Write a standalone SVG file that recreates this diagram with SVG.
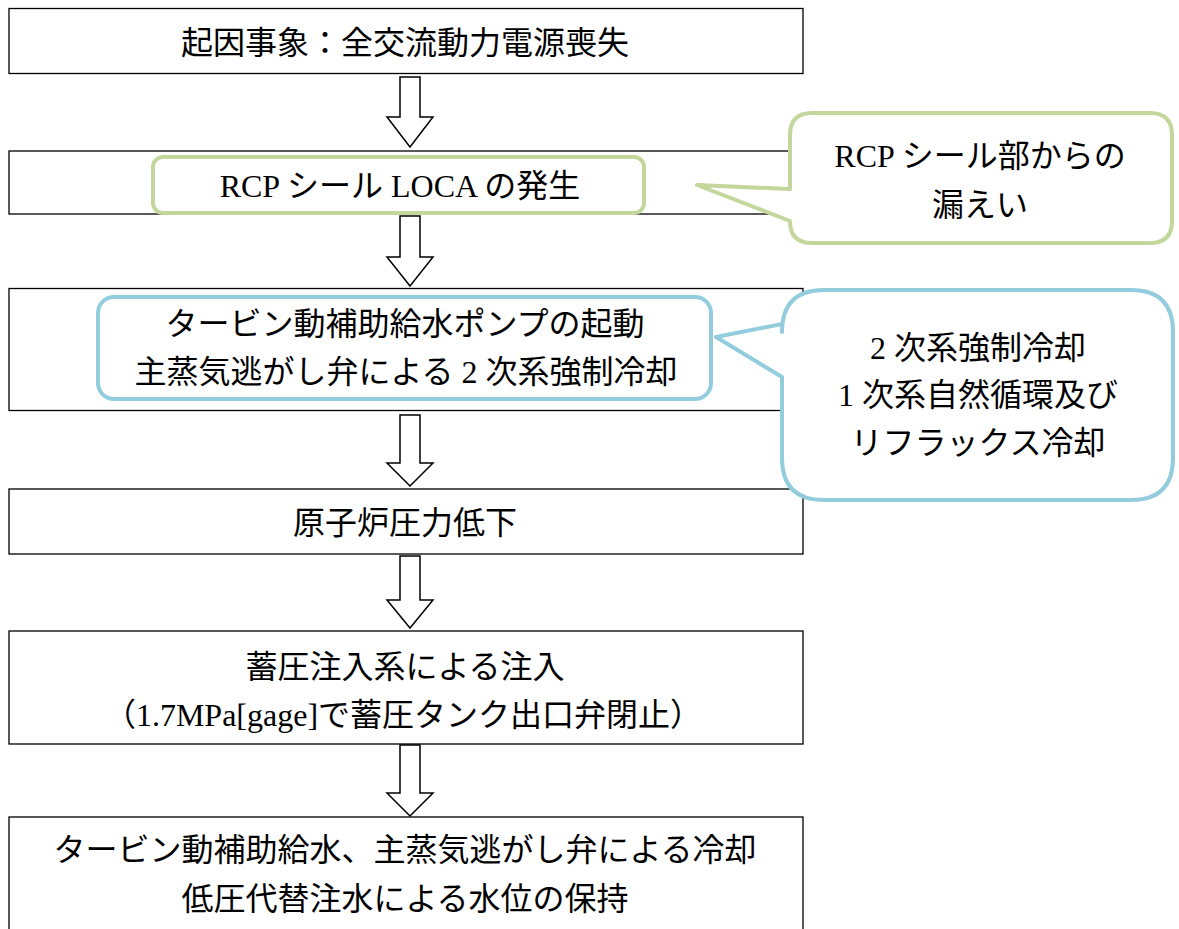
<svg xmlns="http://www.w3.org/2000/svg" width="1179" height="929" viewBox="0 0 1179 929">
<style>
.box{fill:#fff;stroke:#000;stroke-width:1.3}
.arr{fill:#fff;stroke:#000;stroke-width:1.5;stroke-linejoin:miter}
.grn{fill:#fff;stroke:#c3d69b;stroke-width:4;stroke-linejoin:round}
.blu{fill:#fff;stroke:#93cddd;stroke-width:4;stroke-linejoin:round}
text{font-family:"Liberation Serif","Noto Sans CJK JP",serif;font-size:32px;fill:#000;text-anchor:middle;dominant-baseline:central}
</style>
<rect width="1179" height="929" fill="#fff"/>
<g id="connectors">
<path class="arr" d="M400,77 H420 V117 H433 L410,147 L387,117 H400 Z"/>
<path class="arr" d="M400,216 H420 V257 H433 L410,286 L387,257 H400 Z"/>
<path class="arr" d="M400,415 H420 V463 H433 L410,486 L387,463 H400 Z"/>
<path class="arr" d="M400,556 H420 V600 H433 L410,628 L387,600 H400 Z"/>
<path class="arr" d="M400,745 H420 V793 H433 L410,816 L387,793 H400 Z"/>
</g>
<g id="n1">
<rect class="box" x="9" y="8.5" width="794" height="65"/>
<text x="405" y="43">起因事象：全交流動力電源喪失</text>
</g>
<g id="n2">
<rect class="box" x="9" y="151" width="794" height="63"/>
<rect class="grn" x="153" y="157" width="491" height="56" rx="10"/>
<text x="400" y="186">RCP シール LOCA の発生</text>
</g>
<g id="n3">
<rect class="box" x="9" y="288.5" width="794" height="122"/>
<rect class="blu" x="98" y="297" width="613" height="102" rx="16"/>
<text x="405" y="324">タービン動補助給水ポンプの起動</text>
<text x="406" y="372">主蒸気逃がし弁による 2 次系強制冷却</text>
</g>
<g id="n4">
<rect class="box" x="9" y="489" width="794" height="65"/>
<text x="405" y="523">原子炉圧力低下</text>
</g>
<g id="n5">
<rect class="box" x="9" y="631" width="794" height="113"/>
<text x="405" y="667">蓄圧注入系による注入</text>
<text x="403" y="715">（1.7MPa[gage]で蓄圧タンク出口弁閉止）</text>
</g>
<g id="n6">
<rect class="box" x="9" y="817" width="794" height="130"/>
<text x="405" y="850">タービン動補助給水、主蒸気逃がし弁による冷却</text>
<text x="405" y="899">低圧代替注水による水位の保持</text>
</g>
<g id="callout1">
<path class="grn" d="M812,113 H1150 Q1172,113 1172,135 V221 Q1172,243 1150,243 H812 Q790,243 790,221 L697,185 L790,189 V135 Q790,113 812,113 Z"/>
<text x="980" y="156">RCP シール部からの</text>
<text x="980" y="205">漏えい</text>
</g>
<g id="callout2">
<path class="blu" d="M824,290 H1131 Q1173,290 1173,332 V458 Q1173,500 1131,500 H824 Q782,500 782,458 V377 L716,337 L782,324 V332 Q782,290 824,290 Z"/>
<text x="978" y="348">2 次系強制冷却</text>
<text x="978" y="395">1 次系自然循環及び</text>
<text x="978" y="443">リフラックス冷却</text>
</g>
</svg>
